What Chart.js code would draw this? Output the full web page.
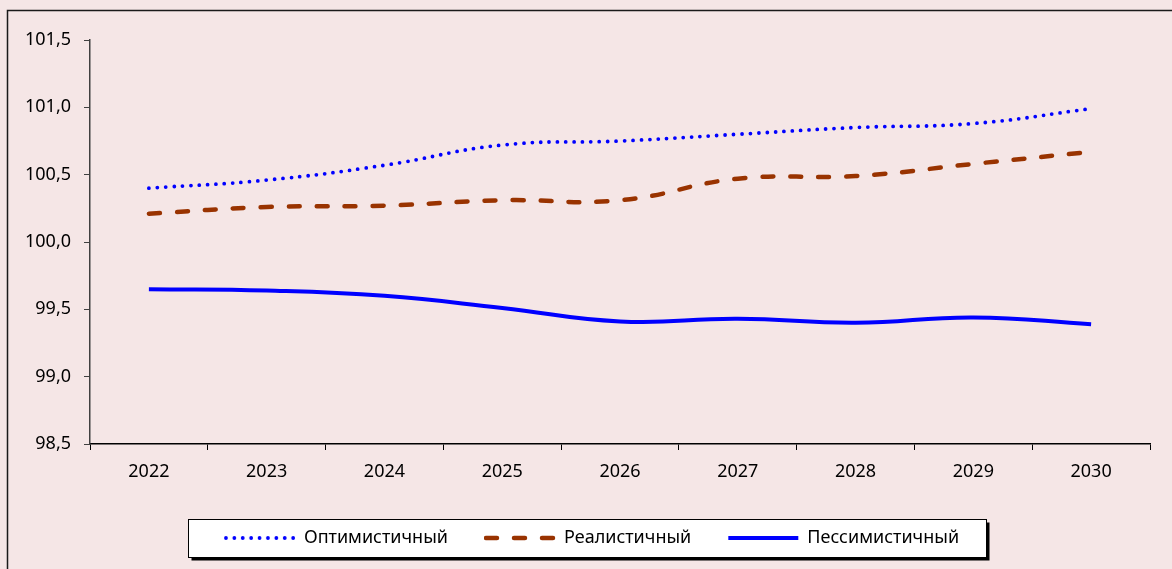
<!DOCTYPE html>
<html>
<head>
<meta charset="utf-8">
<script src="https://cdn.jsdelivr.net/npm/chart.js@4/dist/chart.umd.min.js"></script>
<style>
html, body { margin: 0; padding: 0; background: #F5E6E6; }
#wrap { position: relative; width: 1172px; height: 569px; }
canvas { display: block; }
</style>
</head>
<body>
<div id="wrap"><canvas id="c" width="1172" height="569"></canvas></div>
<script>
const years = ['2022', '2023', '2024', '2025', '2026', '2027', '2028', '2029', '2030'];
const optimistic = [100.40, 100.46, 100.57, 100.72, 100.75, 100.80, 100.85, 100.88, 100.99];
const realistic = [100.21, 100.26, 100.27, 100.31, 100.31, 100.47, 100.49, 100.58, 100.67];
const pessimistic = [99.65, 99.64, 99.60, 99.51, 99.41, 99.43, 99.40, 99.44, 99.39];
const seriesNames = ['Оптимистичный', 'Реалистичный', 'Пессимистичный'];
const yMin = 98.5, yMax = 101.5, yStep = 0.5;

const FONT = "'Noto Sans', 'Open Sans', sans-serif";
const BG = '#F5E6E6';
const LEGEND_SHIFT = 17;

// legend line samples (drawn as small canvases, used as point styles)
function makeSample(color, width, dash, cap) {
  const cv = document.createElement('canvas');
  cv.width = 72; cv.height = 10;
  const g = cv.getContext('2d');
  g.strokeStyle = color;
  g.lineWidth = width;
  g.lineCap = cap;
  g.setLineDash(dash);
  g.beginPath();
  const pad = cap === 'butt' ? 1 : 2;
  g.moveTo(pad, 5);
  g.lineTo(72 - pad, 5);
  g.stroke();
  return cv;
}
const sampleOpt = makeSample('#0000FF', 3.8, [0, 8.4], 'round');
const sampleReal = makeSample('#993300', 4.5, [11, 17], 'round');
const samplePess = makeSample('#0000FF', 4, [], 'butt');

const framePlugin = {
  id: 'frame',
  afterLayout(chart) {
    const lg = chart.legend;
    if (!lg) return;
    lg.left += LEGEND_SHIFT;
    lg.right += LEGEND_SHIFT;
    (lg.legendHitBoxes || []).forEach(h => { h.left += LEGEND_SHIFT; });
  },
  beforeDraw(chart) {
    const ctx = chart.ctx;
    ctx.save();
    ctx.fillStyle = BG;
    ctx.fillRect(0, 0, chart.width, chart.height);
    ctx.strokeStyle = '#1a1a1a';
    ctx.lineWidth = 1.5;
    ctx.beginPath();
    ctx.moveTo(7.5, chart.height);
    ctx.lineTo(7.5, 10.5);
    ctx.lineTo(chart.width, 10.5);
    ctx.stroke();
    const lg = chart.legend;
    if (lg && lg.legendHitBoxes && lg.legendHitBoxes.length) {
      const hb = lg.legendHitBoxes;
      const l = Math.round(hb[0].left - 37) + 0.5;
      const r = Math.round(hb[hb.length - 1].left + hb[hb.length - 1].width + 27) + 0.5;
      const cy = hb[0].top + hb[0].height / 2;
      const t = Math.round(cy - 19) + 0.5;
      const b = Math.round(cy + 19) + 0.5;
      ctx.fillStyle = '#000000';
      ctx.fillRect(l + 3, t + 3, r - l, b - t);
      ctx.fillStyle = '#ffffff';
      ctx.fillRect(l, t, r - l, b - t);
      ctx.strokeStyle = '#000000';
      ctx.lineWidth = 1;
      ctx.strokeRect(l, t, r - l, b - t);
    }
    ctx.restore();
  }
};

new Chart(document.getElementById('c'), {
  type: 'line',
  data: {
    labels: years,
    datasets: [
      {
        label: seriesNames[0],
        data: optimistic,
        borderColor: '#0000FF',
        backgroundColor: '#0000FF',
        borderWidth: 3.8,
        borderDash: [0, 8.4],
        borderCapStyle: 'round',
        pointRadius: 0,
        pointStyle: sampleOpt,
        tension: 0.45,
        fill: false
      },
      {
        label: seriesNames[1],
        data: realistic,
        borderColor: '#993300',
        backgroundColor: '#993300',
        borderWidth: 4.5,
        borderDash: [11, 17],
        borderCapStyle: 'round',
        pointRadius: 0,
        pointStyle: sampleReal,
        tension: 0.45,
        fill: false
      },
      {
        label: seriesNames[2],
        data: pessimistic,
        borderColor: '#0000FF',
        backgroundColor: '#0000FF',
        borderWidth: 4,
        borderCapStyle: 'butt',
        pointRadius: 0,
        pointStyle: samplePess,
        tension: 0.45,
        fill: false
      }
    ]
  },
  options: {
    responsive: false,
    animation: false,
    devicePixelRatio: 1,
    layout: { padding: { left: 0, top: 40, right: 22, bottom: 12 } },
    plugins: {
      tooltip: { enabled: false },
      legend: {
        position: 'bottom',
        labels: {
          color: '#000',
          font: { family: FONT, size: 18 },
          usePointStyle: true,
          pointStyleWidth: 70,
          padding: 37
        }
      }
    },
    scales: {
      x: {
        offset: true,
        grid: {
          offset: true,
          drawOnChartArea: false,
          drawTicks: true,
          tickLength: 6,
          color: '#000',
          tickColor: '#000'
        },
        border: { display: true, color: '#000', width: 1.5 },
        ticks: { color: '#000', font: { family: FONT, size: 18 }, padding: 11 },
        afterFit(scale) { scale.height = 48; }
      },
      y: {
        min: yMin,
        max: yMax,
        grid: {
          drawOnChartArea: false,
          drawTicks: true,
          tickLength: 6,
          color: '#404040',
          tickColor: '#404040'
        },
        border: { display: true, color: '#404040', width: 1.5 },
        ticks: {
          stepSize: yStep,
          color: '#000',
          font: { family: FONT, size: 18 },
          padding: 13,
          callback: (v) => v.toFixed(1).replace('.', ',')
        },
        afterFit(scale) { scale.width = 90; }
      }
    }
  },
  plugins: [framePlugin]
});
</script>
</body>
</html>
